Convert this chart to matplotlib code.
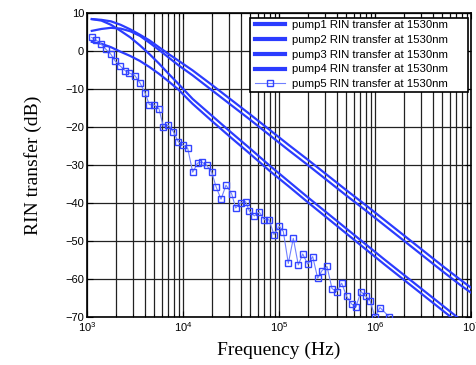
import matplotlib
matplotlib.use('Agg')
import matplotlib.pyplot as plt
from matplotlib.patches import Rectangle
from matplotlib.ticker import LogLocator, NullFormatter

# frequencies (Hz) shared by the four pump curves
freq = [1122, 1413, 1778, 2239, 2818, 3548, 4467, 5623, 7079, 8913,
        12589, 19953, 31623, 50119, 79433, 125893, 199526, 316228,
        501187, 794328, 1258925, 1995262, 3162278, 5011872, 7943282, 1e7]

pump1 = [8.4, 8.2, 7.8, 6.9, 5.7, 4.3, 2.8, 1.0, -0.8, -2.5,
         -5.1, -8.9, -12.8, -16.7, -20.7, -24.7, -28.6, -32.6,
         -36.6, -40.5, -44.5, -48.5, -52.5, -56.5, -60.4, -62.3]
pump2 = [5.3, 5.8, 6.1, 5.9, 5.2, 4.0, 2.2, 0.3, -1.7, -3.7,
         -6.4, -10.3, -14.2, -18.1, -22.1, -26.1, -30.0, -34.0,
         -38.0, -41.9, -45.9, -49.9, -53.9, -57.9, -61.8, -63.6]
pump3 = [8.4, 8.0, 6.9, 5.3, 3.6, 1.5, -0.8, -3.3, -6.0, -8.6,
         -12.6, -17.0, -21.4, -25.7, -30.1, -34.3, -38.5, -42.6,
         -46.7, -50.8, -54.9, -58.9, -62.9, -66.9, -70.9, -72.9]
pump4 = [2.4, 1.9, 1.0, -0.2, -1.3, -2.6, -4.2, -6.0, -8.0, -10.1,
         -13.9, -18.4, -22.8, -27.1, -31.5, -35.6, -39.8, -43.9,
         -48.0, -52.1, -56.2, -60.2, -64.2, -68.2, -72.2, -74.2]

# pump5 measured points
freq5 = [1120, 1233, 1390, 1567, 1766, 1959, 2208, 2506, 2761, 3162,
         3565, 4018, 4457, 4989, 5623, 6237, 7031, 7925, 8933, 9931,
         11194, 12618, 14223, 15668, 17660, 19907, 22080, 24889, 28054, 32137,
         35400, 39902, 44978, 49091, 55335, 62373, 70307, 78705, 88716, 100693,
         110917, 125026, 140929, 158855, 176604, 199067, 224388, 252930, 280543, 316228,
         356451, 399025, 449780, 506991, 571479, 633870, 714496, 805378, 887156, 1000000,
         1127197, 1409289]
pump5 = [3.56, 2.96, 1.9, 0.5, -0.8, -2.6, -3.9, -5.2, -5.8, -6.5,
         -8.4, -11.0, -14.1, -14.2, -15.2, -19.9, -19.5, -21.2, -23.9, -24.7,
         -25.6, -31.9, -29.5, -29.2, -30.1, -31.9, -35.7, -39.0, -35.3, -37.6,
         -41.3, -40.0, -39.7, -42.1, -43.4, -42.4, -44.4, -44.4, -48.3, -46.1,
         -47.5, -55.9, -49.3, -56.3, -53.4, -56.1, -54.1, -59.8, -57.8, -56.7,
         -62.5, -63.3, -61.1, -64.6, -66.6, -67.3, -63.3, -64.6, -65.7, -70.0,
         -67.5, -70.0]

labels = ['pump1 RIN transfer at 1530nm', 'pump2 RIN transfer at 1530nm',
          'pump3 RIN transfer at 1530nm', 'pump4 RIN transfer at 1530nm',
          'pump5 RIN transfer at 1530nm']

plt.rcParams['font.family'] = ['Liberation Sans', 'DejaVu Sans']
plt.rcParams['mathtext.fontset'] = 'custom'
plt.rcParams['mathtext.rm'] = 'Liberation Sans'
plt.rcParams['mathtext.it'] = 'Liberation Sans'

blue = '#2b3cff'

fig = plt.figure(figsize=(4.77, 3.65), dpi=100)
ax = fig.add_axes([87 / 477, 48 / 365, 384 / 477, 304 / 365])

for ys, lab in zip([pump1, pump2, pump3, pump4], labels[:4]):
    ax.plot(freq, ys, color=blue, lw=1.6, label=lab, zorder=3)
ax.plot(freq5, pump5, color='#7080ff', lw=0.8, marker='s', ms=5,
        mfc='none', mec='#3344ff', mew=1, label=labels[4], zorder=3)

ax.set_xscale('log')
ax.set_xlim(1e3, 1e7)
ax.set_ylim(-70, 10)
ax.set_yticks(range(-70, 11, 10))
ax.xaxis.set_major_locator(LogLocator(base=10, numticks=10))
ax.xaxis.set_minor_locator(LogLocator(base=10, subs=range(2, 10), numticks=50))
ax.xaxis.set_minor_formatter(NullFormatter())

ax.grid(which='major', color='#222222', lw=0.9)
ax.grid(which='minor', axis='x', color='#222222', lw=0.9)
ax.set_axisbelow(True)

ax.tick_params(which='both', direction='in', top=True, right=True, labelsize=8, pad=2)
ax.tick_params(which='major', length=4)
ax.tick_params(which='minor', length=2)
for s in ax.spines.values():
    s.set_linewidth(1.2)

ax.set_xlabel('Frequency (Hz)', family='Liberation Serif', fontsize=14, labelpad=6)
ax.set_ylabel('RIN transfer (dB)', family='Liberation Serif', fontsize=14, labelpad=17)

# legend box drawn separately (MATLAB style, extra space on the right)
box = Rectangle((250 / 477, 1 - 92 / 365), 218 / 477, 74 / 365,
                transform=fig.transFigure, facecolor='white', edgecolor='black',
                lw=1.2, zorder=4, clip_on=False)
ax.add_patch(box)
leg = ax.legend(loc='upper left', bbox_to_anchor=(254 / 477, 1 - 19 / 365),
                bbox_transform=fig.transFigure, frameon=False, fontsize=8.2,
                handlelength=2.6, borderaxespad=0, labelspacing=0.42,
                handletextpad=0.6, borderpad=0.1)
leg.set_zorder(5)
for h in leg.get_lines()[:4]:
    h.set_linewidth(3)

fig.savefig('out.png', dpi=100)
